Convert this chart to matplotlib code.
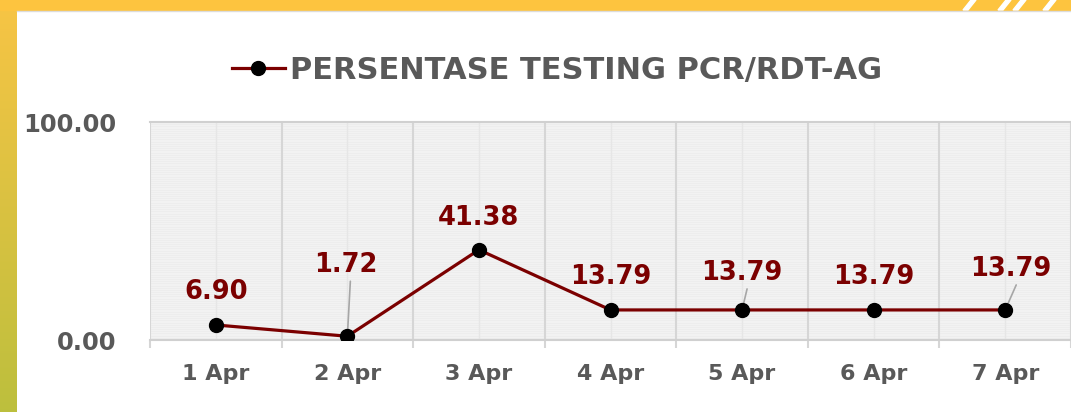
import matplotlib
matplotlib.use("Agg")
import matplotlib.pyplot as plt
import numpy as np
from matplotlib.patches import Rectangle, Polygon

# Data
dates = ['1 Apr', '2 Apr', '3 Apr', '4 Apr', '5 Apr', '6 Apr', '7 Apr']
persen = [6.90, 1.72, 41.38, 13.79, 13.79, 13.79, 13.79]
# label offsets in pixels (to text baseline)
label_offsets = [(0, 26), (-2, 64), (0, 25), (0, 26), (0, 30), (0, 26), (6, 34)]
leader = [False, True, False, False, True, False, True]

plt.rcParams['font.family'] = ['DejaVu Sans']
W, H = 1071, 412
fig = plt.figure(figsize=(W / 100, H / 100), dpi=100)

# frame decoration: left gradient strip, top yellow strip
grad = fig.add_axes([0, 0, 17 / W, 1])
g = np.linspace(0, 1, 256).reshape(-1, 1)
top_c = np.array([0.97, 0.77, 0.27])
bot_c = np.array([0.74, 0.75, 0.24])
img = (top_c * (1 - g) + bot_c * g).reshape(256, 1, 3)
grad.imshow(img, aspect='auto')
grad.axis('off')
fig.patches.append(Rectangle((0, 1 - 10 / H), 1, 10 / H, transform=fig.transFigure,
                             color='#fdc43f', zorder=0))
fig.lines.append(plt.Line2D([17 / W, 1], [1 - 10.5 / H] * 2, transform=fig.transFigure,
                            color='#dcdcdc', lw=1))
for x0 in [963, 998, 1013, 1043]:
    fig.patches.append(Polygon([(x0 / W, 1 - 10 / H), ((x0 + 5) / W, 1 - 10 / H),
                                ((x0 + 13) / W, 1), ((x0 + 8) / W, 1)],
                               transform=fig.transFigure, color='white', zorder=1))

ax = fig.add_axes([150 / W, 72 / H, 1 - 150 / W, (340 - 122) / H])
ax.set_facecolor('#f2f2f2')
x = np.arange(len(dates))

# faint horizontal stripes texture
for yy in np.arange(0, 100, 1.0):
    ax.axhline(yy, color='#ebebeb', lw=0.5, zorder=0)

# grid: major lines at category borders, lighter at centers
for b in np.arange(-0.5, len(dates), 1):
    ax.axvline(b, color='#d6d6d6', lw=1.5, zorder=1)
for c in x:
    ax.axvline(c, color='#e6e6e6', lw=1.0, zorder=1)

ax.plot(x, persen, color='#7b0000', lw=2.3, marker='o', ms=10,
        mfc='black', mec='black', zorder=3)

for i, v in enumerate(persen):
    dx, dy = label_offsets[i]
    ax.annotate(f'{v:.2f}', (x[i], v), xytext=(dx, dy), textcoords='offset pixels',
                ha='center', va='baseline', fontsize=18.5, fontweight='bold',
                color='#7b0000', zorder=4)
    if leader[i]:
        ax.annotate('', (x[i], v), xytext=(dx + 5, dy - 9), textcoords='offset pixels',
                    arrowprops=dict(arrowstyle='-', color='#a6a6a6', lw=1.2,
                                    shrinkA=0, shrinkB=0), zorder=2)

ax.set_xlim(-0.5, len(dates) - 0.5)
ax.set_ylim(0, 100)
ax.set_yticks([0, 100])
ax.set_yticklabels(['0.00', '100.00'])
ax.set_xticks(x)
ax.set_xticklabels(dates)
ax.tick_params(axis='x', length=0, pad=17, labelsize=16, labelcolor='#595959')
ax.tick_params(axis='y', length=0, pad=24, labelsize=17.5, labelcolor='#595959')
for lab in ax.get_xticklabels() + ax.get_yticklabels():
    lab.set_fontweight('bold')
ax.set_xticks(np.arange(-0.5, len(dates), 1), minor=True)
ax.tick_params(axis='x', which='minor', length=6, color='#d6d6d6', width=1.5)

for s in ['left', 'right']:
    ax.spines[s].set_visible(False)
ax.spines['top'].set_color('#d0d0d0')
ax.spines['bottom'].set_color('#d0d0d0')
ax.spines['top'].set_linewidth(1.5)
ax.spines['bottom'].set_linewidth(1.5)

# legend-like title
fig.lines.append(plt.Line2D([232 / W, 285 / W], [1 - 68 / H] * 2, transform=fig.transFigure,
                            color='#7b0000', lw=2.3))
fig.lines.append(plt.Line2D([258 / W], [1 - 68 / H], transform=fig.transFigure,
                            marker='o', ms=10, color='black'))
fig.text(290 / W, 1 - 68 / H, 'PERSENTASE TESTING PCR/RDT-AG', ha='left', va='center_baseline',
         fontsize=22, fontweight='bold', color='#595959')

fig.savefig('out.png', dpi=100)
